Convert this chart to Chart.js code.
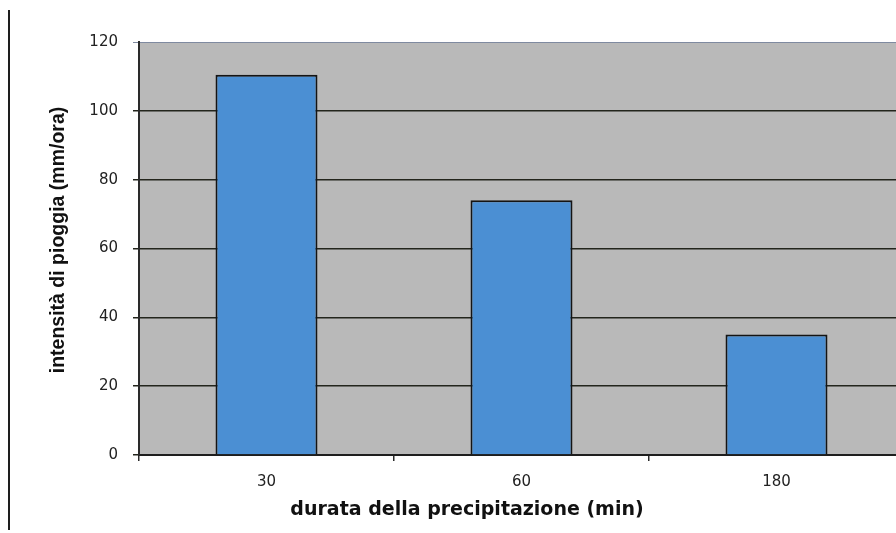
<!DOCTYPE html>
<html>
<head>
<meta charset="utf-8">
<script src="https://cdn.jsdelivr.net/npm/chart.js@4/dist/chart.umd.min.js"></script>
<style>
  html, body { margin: 0; padding: 0; background: #ffffff; overflow: hidden; }
  #wrap { position: relative; width: 910px; height: 533px; }
  #edge { position: absolute; left: 8px; top: 10px; width: 2px; height: 520px; background: #1e1e1e; }
</style>
</head>
<body>
<div id="wrap">
  <canvas id="c" width="910" height="533"></canvas>
  <div id="edge"></div>
</div>
<script>
// Rain intensity by precipitation duration
const durations = ['30', '60', '180'];
const intensities = [110.5, 74, 35];
const yTickValues = [0, 20, 40, 60, 80, 100, 120];
const yTitle = 'intensità di pioggia (mm/ora)';
const xTitle = 'durata della precipitazione (min)';

const TITLE_FONT = '"Liberation Sans", Arial, sans-serif';
const WIDE_FONT = '"DejaVu Sans", sans-serif';

// Grey plot background and hand-placed axis titles
const decor = {
  id: 'decor',
  beforeDraw(chart) {
    const { ctx, chartArea: a } = chart;
    ctx.save();
    ctx.fillStyle = '#b9b9b9';
    ctx.fillRect(a.left, a.top, a.right - a.left, a.bottom - a.top);
    ctx.restore();
  },
  afterDraw(chart) {
    const { ctx } = chart;
    ctx.save();
    ctx.fillStyle = '#111111';
    ctx.textAlign = 'center';
    ctx.textBaseline = 'middle';
    ctx.font = 'bold 19px ' + WIDE_FONT;
    ctx.fillText(xTitle, 467, 510);
    ctx.font = 'bold 19.5px ' + TITLE_FONT;
    ctx.translate(59, 240);
    ctx.rotate(-Math.PI / 2);
    ctx.fillText(yTitle, 0, 0);
    ctx.restore();
  }
};

new Chart(document.getElementById('c'), {
  type: 'bar',
  data: {
    labels: durations,
    datasets: [{
      data: intensities,
      backgroundColor: '#4b8fd3',
      borderColor: '#141414',
      borderWidth: 2,
      barPercentage: 0.4,
      categoryPercentage: 1.0
    }]
  },
  options: {
    responsive: false,
    animation: false,
    layout: { padding: { left: 0, top: 42, right: 6, bottom: 0 } },
    plugins: { legend: { display: false }, tooltip: { enabled: false } },
    scales: {
      x: {
        grid: {
          offset: true,
          drawOnChartArea: false,
          drawTicks: true,
          tickLength: 6,
          color: '#2a2a2a',
          lineWidth: 1.5
        },
        border: { display: true, color: '#1e1e1e', width: 2 },
        ticks: {
          color: '#222222',
          font: { family: WIDE_FONT, size: 15 },
          padding: 12,
          maxRotation: 0
        },
        afterFit(scale) { scale.height = 78; }
      },
      y: {
        min: 0,
        max: 120,
        afterBuildTicks(scale) {
          scale.ticks = yTickValues.map(v => ({ value: v }));
        },
        grid: {
          drawTicks: true,
          tickLength: 6,
          color: (ctx) => ctx.tick && ctx.tick.value === 120 ? '#7f8aa0' : '#23251c',
          lineWidth: (ctx) => ctx.tick && ctx.tick.value === 120 ? 1 : 1.5
        },
        border: { display: true, color: '#2a2a2a', width: 2 },
        ticks: {
          color: '#222222',
          font: { family: WIDE_FONT, size: 15 },
          padding: 15
        },
        afterFit(scale) { scale.width = 139; }
      }
    }
  },
  plugins: [decor]
});
</script>
</body>
</html>
